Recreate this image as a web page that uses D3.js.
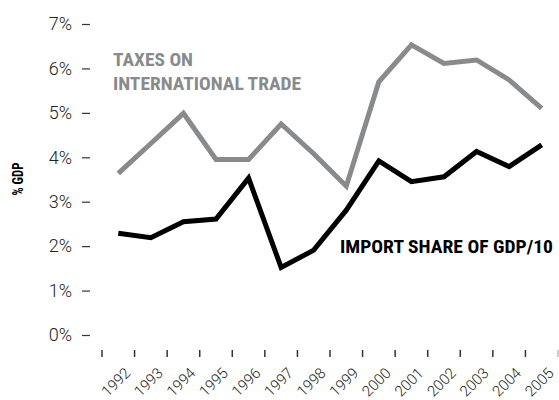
<!DOCTYPE html>
<html>
<head>
<meta charset="utf-8">
<script src="https://cdn.jsdelivr.net/npm/d3@7"></script>
<style>
  html, body { margin: 0; padding: 0; background: #fff; }
  svg { display: block; }
  .tick text { font-family: "Roboto", "Liberation Sans", Arial, sans-serif; font-weight: 300; fill: #222; }
  .cond { font-family: "Liberation Sans Narrow", "Roboto Condensed", "Liberation Sans", Arial, sans-serif; font-weight: bold; }
</style>
</head>
<body>
<svg id="chart" width="559" height="400"></svg>
<script>
const years = ["1992","1993","1994","1995","1996","1997","1998","1999","2000","2001","2002","2003","2004","2005"];
const taxes = [3.64, 4.31, 4.99, 3.95, 3.95, 4.75, 4.08, 3.35, 5.70, 6.53, 6.11, 6.19, 5.74, 5.10];
const imports = [2.29, 2.19, 2.55, 2.61, 3.53, 1.52, 1.91, 2.81, 3.92, 3.45, 3.56, 4.13, 3.79, 4.28];
const yTicks = [0, 1, 2, 3, 4, 5, 6, 7];
const seriesLabels = {
  taxes: ["TAXES ON", "INTERNATIONAL TRADE"],
  imports: ["IMPORT SHARE OF GDP/10"]
};
const yTitle = "% GDP";

const svg = d3.select("#chart");
const x = d3.scaleBand().domain(years).range([102, 558]).padding(0);
const y = d3.scaleLinear().domain([0, 7]).range([335, 24]);
const bw = x.bandwidth();

// Y axis
const yAxis = svg.append("g").attr("transform", "translate(90,0)")
  .call(d3.axisLeft(y).tickValues(yTicks).tickSize(8).tickPadding(10).tickFormat(d => d + "%"));
yAxis.select(".domain").remove();
yAxis.selectAll(".tick line").attr("stroke", "#333").attr("stroke-width", 1.2);
yAxis.selectAll(".tick text").attr("font-size", 18);

// X axis
const xAxis = svg.append("g").attr("transform", "translate(0,350)")
  .call(d3.axisBottom(x).tickSize(7).tickFormat(d => d));
xAxis.select(".domain").remove();
xAxis.selectAll(".tick line").attr("transform", `translate(${-bw/2},0)`).attr("stroke", "#333").attr("stroke-width", 1.5);
xAxis.selectAll(".tick text")
  .attr("font-size", 15)
  .attr("text-anchor", "end")
  .attr("dy", null)
  .attr("y", 0)
  .attr("transform", "translate(13,24) rotate(-45)");
// closing edge tick
xAxis.append("line")
  .attr("x1", x.range()[1]).attr("x2", x.range()[1])
  .attr("y1", 0).attr("y2", 7)
  .attr("stroke", "#bbb").attr("stroke-width", 1.5);

// Lines
const line = d3.line().x((d, i) => x(years[i]) + bw / 2).y(d => y(d));
svg.append("path").datum(taxes)
  .attr("d", line).attr("fill", "none").attr("stroke", "#898a8c")
  .attr("stroke-width", 5).attr("stroke-linejoin", "miter");
svg.append("path").datum(imports)
  .attr("d", line).attr("fill", "none").attr("stroke", "#000")
  .attr("stroke-width", 5).attr("stroke-linejoin", "miter");

// Labels
svg.append("text").attr("class", "cond").attr("x", 113).attr("y", 66)
  .attr("font-size", 19).attr("fill", "#898a8c")
  .attr("textLength", 80).attr("lengthAdjust", "spacingAndGlyphs")
  .text(seriesLabels.taxes[0]);
svg.append("text").attr("class", "cond").attr("x", 113).attr("y", 90)
  .attr("font-size", 19).attr("fill", "#898a8c")
  .attr("textLength", 188).attr("lengthAdjust", "spacingAndGlyphs")
  .text(seriesLabels.taxes[1]);
svg.append("text").attr("class", "cond").attr("x", 340).attr("y", 253)
  .attr("font-size", 19).attr("fill", "#000")
  .attr("textLength", 213).attr("lengthAdjust", "spacingAndGlyphs")
  .text(seriesLabels.imports[0]);

// Y title
svg.append("text").attr("class", "cond")
  .attr("transform", "translate(23,179) rotate(-90)")
  .attr("text-anchor", "middle")
  .attr("font-size", 14).attr("fill", "#000")
  .attr("textLength", 33).attr("lengthAdjust", "spacingAndGlyphs")
  .text(yTitle);
</script>
</body>
</html>
